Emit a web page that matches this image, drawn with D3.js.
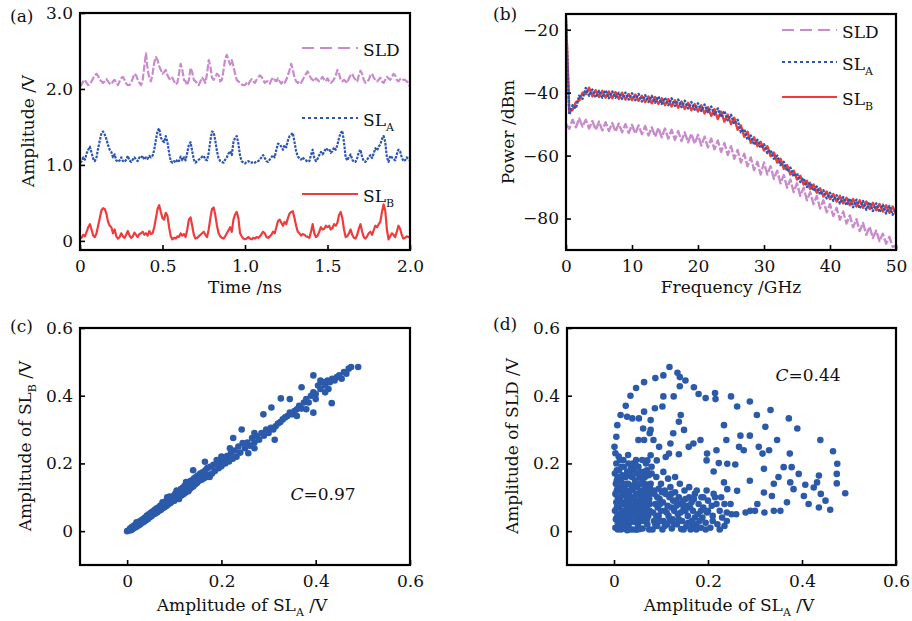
<!DOCTYPE html>
<html>
<head>
<meta charset="utf-8">
<script src="https://cdn.jsdelivr.net/npm/d3@7"></script>
<style>
  body { margin: 0; background: #fff; }
  svg text { font-family: "DejaVu Serif", serif; font-size: 17px; fill: #111; }
</style>
</head>
<body>
<div id="chart"></div>
<script>
var svgWidth = 912;
var svgHeight = 621;

// (a) time traces, one sample every 0.01 ns (raw amplitude, shifted for display)
var timeStep = 0.01;
var sldTrace = [
  0.03,0.06,0.1,0.12,0.08,0.05,0.07,0.1,0.14,0.18,
  0.2,0.17,0.12,0.1,0.08,0.1,0.13,0.1,0.07,0.06,
  0.1,0.12,0.08,0.05,0.1,0.14,0.16,0.12,0.07,0.05,
  0.05,0.08,0.14,0.2,0.18,0.12,0.08,0.05,0.12,0.3,
  0.47,0.25,0.15,0.1,0.2,0.35,0.42,0.38,0.3,0.25,
  0.2,0.22,0.25,0.18,0.14,0.12,0.15,0.1,0.06,0.08,
  0.2,0.33,0.25,0.12,0.1,0.05,0.12,0.28,0.22,0.12,
  0.1,0.08,0.05,0.1,0.15,0.12,0.08,0.2,0.38,0.3,
  0.15,0.12,0.16,0.2,0.18,0.1,0.12,0.25,0.4,0.45,
  0.38,0.32,0.38,0.3,0.2,0.12,0.1,0.08,0.06,0.05,
  0.05,0.08,0.06,0.1,0.13,0.1,0.08,0.12,0.15,0.18,
  0.16,0.12,0.08,0.1,0.1,0.07,0.12,0.15,0.12,0.1,
  0.14,0.1,0.07,0.1,0.08,0.12,0.18,0.25,0.33,0.25,
  0.15,0.1,0.08,0.1,0.08,0.12,0.16,0.2,0.23,0.18,
  0.14,0.12,0.1,0.14,0.12,0.1,0.13,0.16,0.12,0.1,
  0.14,0.1,0.08,0.1,0.13,0.18,0.25,0.2,0.12,0.1,
  0.12,0.1,0.08,0.14,0.18,0.2,0.15,0.12,0.1,0.18,
  0.24,0.2,0.12,0.08,0.1,0.12,0.18,0.2,0.15,0.12,
  0.1,0.12,0.15,0.1,0.08,0.12,0.16,0.14,0.12,0.15,
  0.2,0.18,0.12,0.1,0.13,0.14,0.12,0.12,0.1,0.08,
  0.03
];
var slaTrace = [
  0.03,0.05,0.1,0.07,0.15,0.2,0.24,0.16,0.08,0.05,
  0.1,0.22,0.32,0.42,0.44,0.4,0.34,0.26,0.2,0.17,
  0.1,0.14,0.06,0.04,0.06,0.1,0.05,0.04,0.07,0.12,
  0.06,0.04,0.07,0.1,0.07,0.05,0.1,0.09,0.12,0.07,
  0.1,0.08,0.12,0.1,0.12,0.2,0.33,0.45,0.48,0.36,
  0.32,0.3,0.38,0.3,0.16,0.05,0.03,0.05,0.03,0.07,
  0.05,0.11,0.06,0.1,0.06,0.16,0.27,0.3,0.18,0.07,
  0.03,0.05,0.07,0.08,0.11,0.12,0.07,0.06,0.16,0.32,
  0.44,0.43,0.32,0.18,0.09,0.05,0.04,0.03,0.07,0.1,
  0.15,0.18,0.13,0.3,0.36,0.38,0.28,0.12,0.05,0.03,
  0.02,0.04,0.05,0.03,0.03,0.04,0.03,0.05,0.05,0.07,
  0.1,0.13,0.09,0.05,0.04,0.07,0.1,0.13,0.1,0.2,
  0.28,0.27,0.24,0.2,0.26,0.23,0.32,0.38,0.4,0.42,
  0.3,0.18,0.11,0.09,0.07,0.1,0.07,0.06,0.04,0.05,
  0.13,0.2,0.09,0.05,0.08,0.13,0.17,0.14,0.17,0.22,
  0.2,0.21,0.16,0.18,0.23,0.2,0.26,0.36,0.42,0.45,
  0.3,0.1,0.06,0.11,0.14,0.07,0.04,0.04,0.09,0.17,
  0.2,0.1,0.05,0.04,0.07,0.1,0.13,0.09,0.15,0.22,
  0.19,0.24,0.27,0.34,0.38,0.3,0.1,0.04,0.12,0.1,
  0.08,0.06,0.14,0.2,0.18,0.1,0.05,0.06,0.1,0.08,
  0.06
];
var slbTrace = [
  0.05,0.04,0.08,0.06,0.12,0.18,0.22,0.15,0.07,0.05,
  0.1,0.2,0.3,0.4,0.43,0.42,0.36,0.25,0.2,0.18,
  0.1,0.15,0.06,0.03,0.05,0.1,0.06,0.04,0.08,0.13,
  0.07,0.04,0.06,0.11,0.08,0.05,0.09,0.1,0.12,0.08,
  0.1,0.07,0.13,0.09,0.1,0.18,0.3,0.42,0.47,0.38,
  0.3,0.28,0.37,0.33,0.18,0.06,0.02,0.04,0.03,0.06,
  0.05,0.1,0.07,0.09,0.05,0.15,0.28,0.31,0.2,0.08,
  0.03,0.04,0.06,0.08,0.1,0.12,0.08,0.05,0.15,0.3,
  0.42,0.44,0.34,0.2,0.1,0.06,0.04,0.03,0.06,0.1,
  0.14,0.18,0.12,0.28,0.35,0.38,0.3,0.1,0.06,0.03,
  0.02,0.03,0.05,0.03,0.02,0.04,0.03,0.05,0.04,0.06,
  0.09,0.12,0.1,0.05,0.04,0.06,0.08,0.12,0.1,0.18,
  0.26,0.28,0.24,0.2,0.25,0.22,0.3,0.36,0.38,0.39,
  0.3,0.2,0.12,0.1,0.07,0.09,0.08,0.06,0.05,0.04,
  0.12,0.22,0.1,0.05,0.07,0.12,0.18,0.15,0.16,0.2,
  0.18,0.2,0.15,0.17,0.22,0.2,0.24,0.34,0.38,0.3,
  0.15,0.05,0.06,0.1,0.15,0.08,0.04,0.03,0.08,0.16,
  0.22,0.12,0.05,0.03,0.06,0.1,0.12,0.08,0.14,0.2,
  0.18,0.22,0.25,0.38,0.48,0.4,0.15,0.02,0.06,0.1,
  0.08,0.05,0.12,0.2,0.16,0.08,0.03,0.04,0.06,0.05,
  0.05
];
var traceOffsets = [2, 1, 0];   // SLD, SL_A, SL_B

// (b) spectra in dBm, one value every 0.5 GHz
var freqStep = 0.5;
var sldSpec = [
  -50,-51.5,-48.6,-51,-48.2,-50.8,-48.6,-51.4,-49,-51.8,
  -49.2,-52,-49.4,-52.2,-49.6,-52.4,-49.8,-52.6,-50,-52.8,
  -50.2,-53,-50.4,-53.2,-50.6,-53.6,-51,-54,-51.2,-54.2,
  -51.4,-54.6,-51.8,-55,-52.2,-55.4,-52.6,-55.8,-53,-56.2,
  -53.4,-56.8,-54,-57.4,-54.6,-58,-55.2,-58.8,-56,-59.8,
  -57,-61,-58.2,-62.2,-59.4,-63.4,-60.6,-64.6,-62,-66,
  -62.2,-66,-63.4,-67.4,-64.8,-68.8,-66.2,-70.2,-67.6,-71.6,
  -68.8,-72.8,-70.2,-74.2,-71.6,-75.4,-72.8,-76.8,-74.2,-78,
  -75.4,-79.2,-76.6,-80.4,-77.8,-81.6,-79,-82.8,-80.2,-84,
  -81.4,-85.2,-82.6,-86.2,-83.8,-87.2,-84.8,-88,-85.8,-89,
  -88.6
];
var slaSpec = [
  -17,-47,-44,-45,-41,-42,-38.5,-41,-39,-41.5,
  -39.4,-41.6,-39.2,-41.8,-39.6,-41.6,-40,-42,-40,-42.2,
  -40.2,-42.4,-40.4,-42.8,-40.8,-43,-41,-43.2,-41.2,-43.6,
  -41.6,-44,-41.8,-44.2,-42.2,-44.6,-42.6,-45,-43,-45.4,
  -43.4,-45.8,-43.8,-46.2,-44.4,-47,-45,-47.8,-45.8,-48.8,
  -47,-50,-48.6,-52.6,-51.6,-55,-53.6,-56.6,-55,-57.6,
  -56.4,-59.2,-58.2,-61,-60,-63,-62,-65,-63.8,-66.6,
  -65.6,-68.4,-67.2,-70,-68.6,-71.2,-69.8,-72.4,-71,-73.6,
  -71.8,-74.4,-72.6,-75.2,-73.2,-75.8,-73.6,-76.4,-74,-76.8,
  -74.4,-77.2,-74.8,-77.6,-75.2,-78,-75.6,-78.4,-76,-78.8,
  -77
];
var slbSpec = [
  -16,-46,-45.5,-43,-42.5,-40,-40.5,-38.4,-41.2,-39.2,
  -41.4,-39.4,-41.6,-39.6,-41.8,-39.8,-42,-40,-42.2,-40.4,
  -42.4,-40.6,-42.6,-41,-43,-41.2,-43.4,-41.4,-43.6,-41.8,
  -44,-42,-44.4,-42.4,-44.8,-42.8,-45.2,-43.2,-45.6,-43.6,
  -46,-44,-46.6,-44.6,-47.4,-45.2,-48.4,-46,-49.2,-47,
  -50,-48,-51.8,-50.4,-54,-52.4,-56,-54.2,-57,-55.6,
  -58.4,-57,-60.2,-59,-62.2,-61,-64.2,-63,-66,-64.8,
  -67.6,-66.4,-69.2,-68,-70.6,-69.2,-71.8,-70.4,-73,-71.4,
  -73.8,-72.2,-74.6,-72.8,-75.2,-73.4,-75.8,-73.8,-76.2,-74.2,
  -76.6,-74.6,-77,-75,-77.4,-75.4,-77.8,-75.8,-78.2,-76.2,
  -78.6
];

// (c) SL_A vs SL_B amplitude pairs
var scatterC = [
  [0,0],[0.004,0.002],[0.006,0.008],[0.008,0.003],[0.01,0.012],[0.012,0.006],[0.014,0.016],[0.016,0.01],[0.018,0.02],[0.02,0.013],
  [0.022,0.024],[0.024,0.017],[0.026,0.028],[0.028,0.02],[0.03,0.032],[0.032,0.025],[0.034,0.036],[0.036,0.028],[0.038,0.04],[0.04,0.032],
  [0.042,0.046],[0.044,0.036],[0.046,0.05],[0.048,0.041],[0.05,0.054],[0.052,0.045],[0.054,0.058],[0.056,0.05],[0.058,0.062],[0.06,0.052],
  [0.062,0.067],[0.064,0.056],[0.066,0.07],[0.068,0.06],[0.07,0.075],[0.072,0.063],[0.074,0.078],[0.076,0.068],[0.078,0.082],[0.08,0.071],
  [0.082,0.088],[0.084,0.075],[0.086,0.092],[0.088,0.08],[0.09,0.096],[0.092,0.083],[0.094,0.1],[0.096,0.088],[0.098,0.104],[0.1,0.09],
  [0.102,0.11],[0.104,0.095],[0.106,0.113],[0.108,0.1],[0.11,0.118],[0.112,0.104],[0.114,0.124],[0.116,0.106],[0.118,0.128],[0.12,0.11],
  [0.122,0.134],[0.124,0.114],[0.126,0.138],[0.128,0.12],[0.13,0.142],[0.132,0.124],[0.134,0.148],[0.136,0.128],[0.138,0.15],[0.14,0.132],
  [0.142,0.156],[0.144,0.138],[0.146,0.16],[0.148,0.142],[0.15,0.164],[0.152,0.148],[0.155,0.17],[0.158,0.152],[0.16,0.174],[0.163,0.156],
  [0.166,0.18],[0.168,0.16],[0.17,0.186],[0.173,0.165],[0.176,0.19],[0.18,0.17],[0.183,0.196],[0.186,0.178],[0.19,0.2],[0.194,0.186],
  [0.198,0.21],[0.2,0.192],[0.204,0.214],[0.208,0.2],[0.212,0.222],[0.216,0.206],[0.22,0.23],[0.224,0.214],[0.228,0.238],[0.232,0.22],
  [0.02,0.026],[0.05,0.044],[0.075,0.085],[0.09,0.102],[0.105,0.12],[0.12,0.125],[0.125,0.145],[0.135,0.14],[0.145,0.15],[0.155,0.16],
  [0.165,0.17],[0.11,0.095],[0.13,0.118],[0.085,0.1],[0.14,0.18],[0.165,0.205],[0.175,0.16],[0.19,0.21],[0.2,0.22],[0.218,0.245],
  [0.236,0.25],[0.24,0.232],[0.245,0.26],[0.25,0.245],[0.255,0.262],[0.26,0.252],[0.265,0.275],[0.27,0.262],[0.275,0.28],[0.28,0.27],
  [0.285,0.29],[0.29,0.282],[0.295,0.3],[0.3,0.29],[0.305,0.305],[0.31,0.3],[0.315,0.31],[0.32,0.318],[0.325,0.322],[0.33,0.33],
  [0.335,0.336],[0.34,0.34],[0.345,0.35],[0.35,0.345],[0.355,0.355],[0.36,0.36],[0.365,0.37],[0.37,0.362],[0.375,0.38],[0.38,0.39],
  [0.385,0.38],[0.39,0.4],[0.395,0.41],[0.4,0.405],[0.405,0.43],[0.41,0.42],[0.415,0.44],[0.42,0.43],[0.425,0.445],[0.43,0.44],
  [0.435,0.45],[0.44,0.445],[0.445,0.455],[0.45,0.46],[0.455,0.45],[0.46,0.47],[0.465,0.465],[0.47,0.48],[0.475,0.485],[0.49,0.485],
  [0.434,0.378],[0.395,0.35],[0.313,0.27],[0.345,0.39],[0.326,0.392],[0.306,0.365],[0.289,0.345],[0.243,0.3],[0.225,0.275],[0.257,0.23],
  [0.37,0.425],[0.395,0.46],[0.41,0.445],[0.427,0.42],[0.27,0.245],[0.36,0.34],[0.38,0.36],[0.4,0.39],[0.42,0.41],[0.27,0.29]
];

// (d) SL_A vs SLD amplitude pairs
var scatterD = [
  [0.118,0.485],[0.105,0.46],[0.088,0.452],[0.064,0.44],[0.047,0.423],[0.035,0.4],[0.025,0.37],[0.014,0.343],[0.007,0.313],[0.005,0.279],
  [0.001,0.249],[0.135,0.468],[0.14,0.455],[0.152,0.445],[0.14,0.428],[0.17,0.425],[0.18,0.405],[0.195,0.393],[0.215,0.408],[0.216,0.39],
  [0.249,0.398],[0.289,0.383],[0.262,0.368],[0.304,0.343],[0.333,0.358],[0.372,0.333],[0.39,0.303],[0.322,0.308],[0.347,0.269],[0.439,0.269],
  [0.466,0.236],[0.475,0.199],[0.474,0.169],[0.474,0.141],[0.492,0.112],[0.46,0.063],[0.45,0.09],[0.436,0.164],[0.432,0.144],[0.425,0.129],
  [0.407,0.137],[0.393,0.169],[0.378,0.189],[0.374,0.229],[0.361,0.189],[0.375,0.144],[0.382,0.124],[0.404,0.104],[0.414,0.08],[0.436,0.07],
  [0.368,0.085],[0.354,0.06],[0.336,0.104],[0.319,0.114],[0.319,0.184],[0.316,0.229],[0.33,0.239],[0.308,0.249],[0.289,0.282],[0.269,0.282],
  [0.266,0.249],[0.276,0.239],[0.289,0.149],[0.305,0.08],[0.29,0.06],[0.262,0.119],[0.241,0.124],[0.234,0.144],[0.258,0.197],[0.241,0.199],
  [0.223,0.201],[0.212,0.176],[0.197,0.209],[0.198,0.229],[0.218,0.239],[0.239,0.269],[0.234,0.313],[0.184,0.269],[0.169,0.259],[0.159,0.249],
  [0.149,0.299],[0.138,0.323],[0.142,0.343],[0.126,0.289],[0.12,0.259],[0.096,0.249],[0.084,0.269],[0.076,0.289],[0.064,0.269],[0.052,0.269],
  [0.062,0.303],[0.078,0.299],[0.078,0.328],[0.087,0.363],[0.103,0.368],[0.105,0.398],[0.127,0.398],[0.064,0.353],[0.053,0.333],[0.039,0.333],
  [0.028,0.338],[0.117,0.229],[0.11,0.219],[0.138,0.227],[0.078,0.224],[0.071,0.209],[0.091,0.209],[0.34,0.14],[0.35,0.16],[0.44,0.11],
  [0.003,0.01],[0.004,0.035],[0.002,0.06],[0.005,0.085],[0.003,0.11],[0.004,0.14],[0.002,0.17],[0.005,0.2],[0.003,0.23],
  [0.012,0.02],[0.014,0.045],[0.011,0.07],[0.013,0.095],[0.012,0.12],[0.015,0.15],[0.011,0.18],[0.013,0.21],
  [0.022,0.008],[0.021,0.03],[0.024,0.055],[0.02,0.08],[0.023,0.105],[0.022,0.13],[0.025,0.16],[0.021,0.19],
  [0.031,0.015],[0.033,0.04],[0.03,0.065],[0.034,0.09],[0.032,0.115],[0.03,0.14],[0.034,0.17],[0.031,0.2],
  [0.041,0.005],[0.043,0.028],[0.04,0.05],[0.044,0.075],[0.042,0.1],[0.04,0.125],[0.045,0.15],[0.042,0.18],[0.047,0.21],
  [0.051,0.018],[0.053,0.04],[0.05,0.062],[0.054,0.085],[0.052,0.11],[0.05,0.135],[0.055,0.16],[0.052,0.19],
  [0.061,0.008],[0.063,0.03],[0.06,0.055],[0.064,0.08],[0.062,0.1],[0.066,0.125],[0.06,0.15],[0.064,0.175],[0.068,0.2],
  [0.071,0.02],[0.073,0.045],[0.07,0.07],[0.075,0.095],[0.072,0.12],[0.078,0.14],[0.074,0.165],[0.08,0.19],
  [0.008,0.025],[0.018,0.015],[0.027,0.022],[0.036,0.028],[0.046,0.038],[0.056,0.05],[0.066,0.06],[0.008,0.05],[0.017,0.06],[0.026,0.075],
  [0.037,0.062],[0.047,0.07],[0.057,0.07],[0.067,0.09],[0.008,0.1],[0.018,0.11],[0.027,0.09],[0.037,0.1],[0.047,0.11],[0.057,0.12],
  [0.008,0.13],[0.018,0.14],[0.027,0.12],[0.037,0.135],[0.047,0.13],[0.058,0.1],[0.068,0.11],[0.008,0.16],[0.018,0.165],[0.028,0.175],
  [0.038,0.16],[0.048,0.17],[0.058,0.14],[0.008,0.005],[0.028,0.003],[0.048,0.004],[0.068,0.035],
  [0.006,0.04],[0.016,0.03],[0.026,0.045],[0.036,0.05],[0.046,0.055],[0.056,0.03],[0.066,0.045],[0.076,0.06],
  [0.006,0.07],[0.016,0.085],[0.026,0.06],[0.036,0.075],[0.046,0.09],[0.056,0.095],[0.066,0.075],[0.076,0.08],
  [0.006,0.12],[0.016,0.125],[0.026,0.105],[0.036,0.12],[0.046,0.145],[0.056,0.115],[0.066,0.14],[0.076,0.11],
  [0.006,0.15],[0.016,0.19],[0.026,0.14],[0.036,0.185],[0.046,0.195],[0.056,0.175],[0.066,0.16],[0.076,0.13],
  [0.006,0.18],[0.01,0.22],[0.02,0.21],[0.03,0.225],[0.04,0.2],[0.06,0.21],[0.07,0.18],[0.08,0.17],
  [0.015,0.005],[0.035,0.005],[0.055,0.006],[0.075,0.005],[0.01,0.015],[0.03,0.028],[0.05,0.025],[0.07,0.035],
  [0.082,0.005],[0.085,0.03],[0.083,0.055],[0.088,0.08],[0.086,0.11],[0.092,0.015],[0.095,0.045],[0.093,0.07],[0.097,0.095],[0.095,0.125],
  [0.1,0.14],[0.103,0.005],[0.105,0.03],[0.108,0.06],[0.104,0.085],[0.11,0.11],[0.113,0.02],[0.116,0.045],[0.114,0.075],[0.118,0.1],
  [0.12,0.13],[0.123,0.008],[0.125,0.035],[0.128,0.06],[0.126,0.09],[0.13,0.115],[0.134,0.02],[0.136,0.05],[0.133,0.075],[0.138,0.1],
  [0.143,0.006],[0.145,0.03],[0.148,0.065],[0.146,0.088],[0.15,0.12],[0.154,0.015],[0.157,0.045],[0.155,0.075],[0.16,0.1],
  [0.163,0.005],[0.166,0.03],[0.168,0.06],[0.165,0.085],[0.172,0.11],[0.175,0.02],[0.178,0.05],[0.18,0.08],[0.176,0.12],
  [0.185,0.01],[0.188,0.04],[0.19,0.07],[0.186,0.1],[0.195,0.025],[0.198,0.055],[0.2,0.09],[0.197,0.12],
  [0.088,0.02],[0.098,0.03],[0.09,0.045],[0.1,0.06],[0.092,0.1],[0.102,0.115],[0.108,0.015],[0.118,0.03],[0.112,0.055],[0.122,0.07],
  [0.128,0.02],[0.138,0.035],[0.132,0.09],[0.142,0.055],[0.142,0.08],[0.152,0.095],[0.148,0.005],[0.158,0.025],[0.152,0.06],[0.162,0.07],
  [0.168,0.015],[0.172,0.04],[0.17,0.095],[0.182,0.03],[0.185,0.06],[0.19,0.1],[0.122,0.11],[0.108,0.12],[0.085,0.12],[0.098,0.08],
  [0.205,0.01],[0.21,0.045],[0.208,0.075],[0.215,0.1],[0.22,0.02],[0.225,0.06],[0.23,0.04],[0.235,0.015],[0.24,0.055],[0.235,0.08],
  [0.21,0.03],[0.2,0.06],[0.218,0.08],[0.228,0.1],[0.24,0.03],[0.248,0.08],[0.212,0.11],[0.195,0.005],[0.175,0.005],[0.225,0.005],
  [0.25,0.05],[0.26,0.05],[0.28,0.055],[0.3,0.06],[0.32,0.055],[0.34,0.06],[0.115,0.155],[0.13,0.16],[0.09,0.16],[0.105,0.175],
  [0.14,0.14],[0.16,0.13]
];

// tick values
var timeTicks = [0, 0.5, 1.0, 1.5, 2.0];
var ampTicks = [0, 1, 2, 3];
var freqTicks = [0, 10, 20, 30, 40, 50];
var powerTicks = [-20, -40, -60, -80];
var corrTicks = [0, 0.2, 0.4, 0.6];
var corrValues = ["0.97", "0.44"];

var colSLD = "#c98bcb", colA = "#2c56b0", colB = "#ef3b3c", colDot = "#2b5aab";

var svg = d3.select("#chart").append("svg")
  .attr("width", svgWidth)
  .attr("height", svgHeight);

function panel(id, left, top, right, bottom, xDom, yDom) {
  var w = right - left, h = bottom - top;
  var g = svg.append("g").attr("transform", `translate(${left},${top})`);
  svg.append("clipPath").attr("id", "clip" + id)
    .append("rect").attr("width", w).attr("height", h);
  var plot = g.append("g").attr("clip-path", `url(#clip${id})`);
  var x = d3.scaleLinear().domain(xDom).range([0, w]);
  var y = d3.scaleLinear().domain(yDom).range([h, 0]);
  return {g: g, plot: plot, x: x, y: y, w: w, h: h};
}

function axes(p, xt, yt, xf, yf) {
  p.g.append("g").attr("transform", `translate(0,${p.h})`)
    .call(d3.axisBottom(p.x).tickValues(xt).tickFormat(xf)
      .tickSizeInner(-5).tickSizeOuter(0).tickPadding(9.5));
  p.g.append("g")
    .call(d3.axisLeft(p.y).tickValues(yt).tickFormat(yf)
      .tickSizeInner(-5).tickSizeOuter(0).tickPadding(7));
  p.g.selectAll(".domain").remove();
  p.g.selectAll(".tick line").attr("stroke", "#000").attr("stroke-width", 1.6);
  p.g.append("rect").attr("width", p.w).attr("height", p.h)
    .attr("fill", "none").attr("stroke", "#000").attr("stroke-width", 2.2);
}

// text with a subscript: parts = [text, sub, text]
function richText(sel, parts) {
  sel.append("tspan").text(parts[0]);
  if (parts.length > 1) {
    sel.append("tspan").attr("dy", 5).style("font-size", "11px").text(parts[1]);
    sel.append("tspan").attr("dy", -5).text(parts[2]);
  }
}

function title(x, y, parts, rotate) {
  var t = svg.append("text").attr("text-anchor", "middle");
  if (rotate) t.attr("transform", `translate(${x},${y}) rotate(-90)`).attr("dy", "0.35em");
  else t.attr("x", x).attr("y", y);
  richText(t, parts);
  return t;
}

function legend(p, x1, x2, yLine, col, dash, parts) {
  p.g.append("line").attr("x1", x1).attr("x2", x2).attr("y1", yLine).attr("y2", yLine)
    .attr("stroke", col).attr("stroke-width", 2.2).attr("stroke-dasharray", dash);
  var t = p.g.append("text").attr("x", x2 + 5).attr("y", yLine + 8);
  richText(t, parts);
}

var fmtDec = function(d) { return d === 0 ? "0" : d.toFixed(1); };
var fmtMinus = function(d) { return d < 0 ? "\u2212" + Math.abs(d) : d; };

// ---------- (a) ----------
var pa = panel("a", 80, 13, 410, 250, [0, 2], [-0.12, 3.0]);
var traceLine = function(off) {
  return d3.line().x((d, i) => pa.x(i * timeStep)).y(d => pa.y(d + off));
};
[[sldTrace, 0, colSLD, "7,2"], [slaTrace, 1, colA, "2.6,1.2"], [slbTrace, 2, colB, null]]
  .forEach(function(s) {
    pa.plot.append("path").datum(s[0])
      .attr("d", traceLine(traceOffsets[s[1]]))
      .attr("fill", "none").attr("stroke", s[2]).attr("stroke-width", 2.2)
      .attr("stroke-linejoin", "round").attr("stroke-dasharray", s[3]);
  });
axes(pa, timeTicks, ampTicks, fmtDec, fmtDec);
legend(pa, 222, 278, 35, colSLD, "12,6", ["SLD"]);
legend(pa, 222, 278, 105, colA, "3,3", ["SL", "A", ""]);
legend(pa, 222, 278, 181, colB, null, ["SL", "B", ""]);
title(245, 293, ["Time /ns"]);
title(28, 131, ["Amplitude /V"], true);

// ---------- (b) ----------
var pb = panel("b", 566, 14, 896, 250, [0, 50], [-90, -15]);
var specLine = d3.line().x((d, i) => pb.x(i * freqStep)).y(d => pb.y(d));
[[sldSpec, colSLD, "9,2"], [slbSpec, colB, null], [slaSpec, colA, "2.6,1.2"]]
  .forEach(function(s) {
    pb.plot.append("path").datum(s[0]).attr("d", specLine)
      .attr("fill", "none").attr("stroke", s[1]).attr("stroke-width", 2.4)
      .attr("stroke-linejoin", "round").attr("stroke-dasharray", s[2]);
  });
axes(pb, freqTicks, powerTicks, d => d, fmtMinus);
legend(pb, 216, 271, 16, colSLD, "12,6", ["SLD"]);
legend(pb, 216, 271, 48, colA, "3,3", ["SL", "A", ""]);
legend(pb, 216, 271, 83, colB, null, ["SL", "B", ""]);
title(731, 293, ["Frequency /GHz"]);
title(508, 132, ["Power /dBm"], true);

// ---------- (c) & (d) ----------
function scatterPanel(id, left, data, corr, cx, cy) {
  var p = panel(id, left, 328, left === 80 ? 410 : 896, 565, [-0.1, 0.6], [-0.1, 0.6]);
  p.plot.selectAll("circle").data(data).enter().append("circle")
    .attr("cx", d => p.x(d[0])).attr("cy", d => p.y(d[1]))
    .attr("r", 3.3).attr("fill", colDot);
  axes(p, corrTicks, corrTicks, fmtDec, fmtDec);
  var t = p.g.append("text").attr("x", cx).attr("y", cy).attr("text-anchor", "middle");
  t.append("tspan").style("font-style", "italic").text("C");
  t.append("tspan").text("=" + corr);
  return p;
}
scatterPanel("c", 80, scatterC, corrValues[0], 243, 172);
scatterPanel("d", 567, scatterD, corrValues[1], 241, 53);
title(242, 611, ["Amplitude of SL", "A", " /V"]);
title(25, 446, ["Amplitude of SL", "B", " /V"], true);
title(729, 611, ["Amplitude of SL", "A", " /V"]);
title(512, 446, ["Amplitude of SLD /V"], true);

// panel letters
[["(a)", 10, 22], ["(b)", 493, 20], ["(c)", 10, 332], ["(d)", 493, 330]].forEach(function(l) {
  svg.append("text").attr("x", l[1]).attr("y", l[2]).text(l[0]);
});
</script>
</body>
</html>
